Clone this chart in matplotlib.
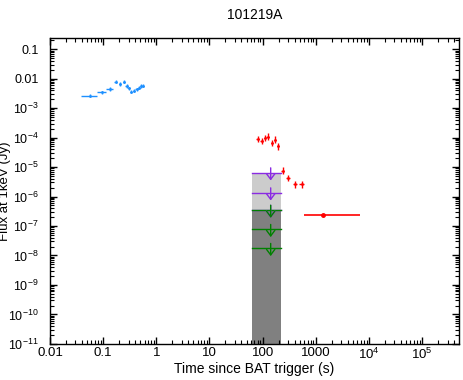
import matplotlib
matplotlib.use("Agg")
import matplotlib.pyplot as plt
import numpy as np

plt.rcParams['font.family'] = ['Liberation Sans', 'DejaVu Sans']
plt.rcParams['mathtext.fontset'] = 'custom'
plt.rcParams['mathtext.rm'] = 'Liberation Sans'
plt.rcParams['mathtext.it'] = 'Liberation Sans'

# early emission (blue)
t_blue = [0.056, 0.097, 0.133, 0.171, 0.206, 0.248, 0.275, 0.308, 0.341, 0.377, 0.424, 0.474, 0.526, 0.564]
t_blue_lo = [0.038, 0.078, 0.115, 0.160, 0.195, 0.236, 0.262, 0.294, 0.327, 0.362, 0.405, 0.455, 0.505, 0.545]
t_blue_hi = [0.078, 0.115, 0.150, 0.182, 0.218, 0.260, 0.290, 0.322, 0.356, 0.393, 0.445, 0.495, 0.545, 0.585]
f_blue = [2.66e-3, 3.48e-3, 4.5e-3, 7.96e-3, 6.65e-3, 7.96e-3, 5.7e-3, 4.75e-3, 3.64e-3, 3.94e-3, 4.4e-3, 4.98e-3, 5.7e-3, 5.8e-3]

# XRT (red)
t_red = [80.5, 95.7, 110, 124, 148, 171, 197, 238, 296, 406, 542]
t_red_lo = [74, 89, 104, 117, 141, 163, 188, 222, 275, 370, 480]
t_red_hi = [87, 103, 117, 131, 156, 180, 207, 256, 320, 445, 610]
f_red = [9.0e-5, 7.7e-5, 9.5e-5, 1.08e-4, 6.5e-5, 8.4e-5, 5.0e-5, 7.6e-6, 4.2e-6, 2.6e-6, 2.6e-6]

t_late = [1384]
t_late_lo = [600]
t_late_hi = [6800]
f_late = [2.4e-7]

# upper limits and shaded boxes
t_box = [63.7, 221]
t_ul = 141.6
ul_purple = [6.5e-6, 1.36e-6, 3.5e-7]
ul_green = [3.5e-7, 7.8e-8, 1.77e-8]
box_light = [3.5e-7, 6.5e-6]
box_dark = [1e-11, 3.5e-7]

fig = plt.figure(figsize=(4.63, 3.80), dpi=100)
ax = fig.add_axes([0.108, 0.095, 0.883, 0.805])
ax.set_xscale('log')
ax.set_yscale('log')

ax.fill_between(t_box, box_light[0], box_light[1], color='#cccccc', lw=0, zorder=1)
ax.fill_between(t_box, box_dark[0], box_dark[1], color='#808080', lw=0, zorder=1)

def errs(t, lo, hi):
    t = np.array(t)
    return [t - np.array(lo), np.array(hi) - t]

ax.errorbar(t_blue, f_blue, xerr=errs(t_blue, t_blue_lo, t_blue_hi),
            yerr=[np.array(f_blue) * 0.12, np.array(f_blue) * 0.14],
            fmt='.', ms=2, color='#1e90ff', elinewidth=1, capsize=0, zorder=3)
ax.errorbar(t_red, f_red, xerr=errs(t_red, t_red_lo, t_red_hi),
            yerr=[np.array(f_red) * 0.22, np.array(f_red) * 0.3],
            fmt='.', ms=2, color='red', elinewidth=1, capsize=0, zorder=3)
ax.errorbar(t_late, f_late, xerr=errs(t_late, t_late_lo, t_late_hi),
            fmt='o', ms=2.5, color='red', elinewidth=1.2, capsize=0, zorder=3)

# upper limits: horizontal line over the box + down arrow
for f, c in [(v, '#8a2be2') for v in ul_purple] + [(v, 'green') for v in ul_green]:
    ax.plot(t_box, [f, f], color=c, lw=1, zorder=2)
    ax.annotate('', xy=(t_ul, f / 2.3), xytext=(t_ul, f * 1.8),
                arrowprops=dict(arrowstyle='->,head_length=0.4,head_width=0.3',
                                color=c, lw=1), zorder=4)

ax.set_xlim(0.01, 4.9e5)
ax.set_ylim(1e-11, 0.24)

xt = [0.01, 0.1, 1, 10, 100, 1000, 1e4, 1e5]
xtl = ['0.01', '0.1', '1', '10', '100', '1000', r'$10^4$', r'$10^5$']
yt = [10.0 ** -k for k in range(1, 12)]
ytl = ['0.1', '0.01'] + [r'$10^{-%d}$' % k for k in range(3, 12)]
ax.set_xticks(xt)
ax.set_xticklabels(xtl)
ax.set_yticks(yt)
ax.set_yticklabels(ytl)
ax.xaxis.set_minor_locator(matplotlib.ticker.LogLocator(base=10, subs=np.arange(2, 10), numticks=20))
ax.yaxis.set_minor_locator(matplotlib.ticker.LogLocator(base=10, subs=np.arange(2, 10), numticks=20))
ax.xaxis.set_minor_formatter(matplotlib.ticker.NullFormatter())
ax.yaxis.set_minor_formatter(matplotlib.ticker.NullFormatter())
ax.tick_params(which='both', direction='in', top=True, right=True, labelsize=9.5)
ax.tick_params(axis='y', labelsize=9, pad=8)
ax.tick_params(axis='x', pad=2)
ax.tick_params(which='major', length=5, width=1)
ax.tick_params(which='minor', length=3, width=0.8)
for s in ax.spines.values():
    s.set_linewidth(1)

ax.set_xlabel('Time since BAT trigger (s)', fontsize=10, labelpad=0)
ax.set_ylabel('Flux at 1keV (Jy)', fontsize=9.5)
ax.yaxis.set_label_coords(-0.095, 0.5)
ax.set_title('101219A', fontsize=10, pad=14)

fig.savefig('out.png', dpi=100)
